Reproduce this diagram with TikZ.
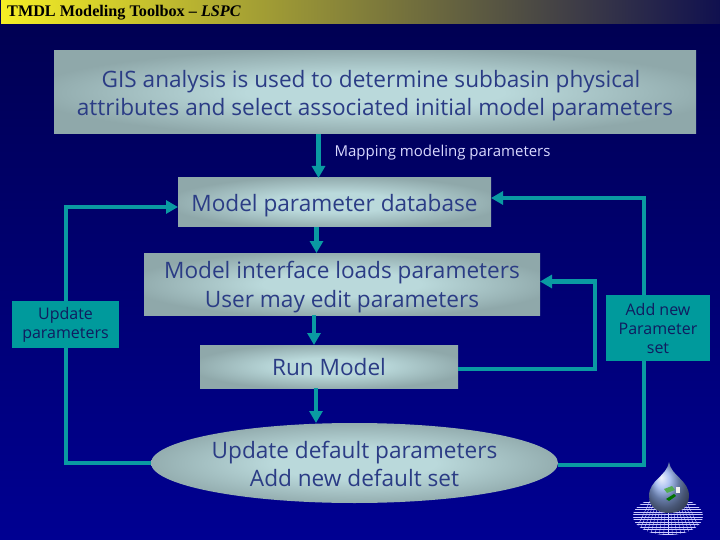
\documentclass[tikz,border=0pt]{standalone}
\usepackage{fontspec}
\setmainfont{Open Sans}
\newfontfamily\titlefont{Liberation Serif}
\usetikzlibrary{arrows.meta, shapes.geometric}

\definecolor{toolteal}{HTML}{0A9AA2}
\definecolor{boxteal}{HTML}{009A9C}
\definecolor{boxtext}{HTML}{2B3C85}
\definecolor{tagtext}{HTML}{101C60}
\definecolor{glowin}{HTML}{BAD9DB}
\definecolor{glowout}{HTML}{8FA8AA}
\definecolor{barleft}{HTML}{F5EE25}
\definecolor{barmid}{HTML}{BDB030}
\definecolor{barright}{HTML}{10104F}
\definecolor{nighttop}{HTML}{000050}
\definecolor{nightlow}{HTML}{000092}
\pgfdeclareradialshading{boxglow}{\pgfpoint{0bp}{0bp}}{%
  color(0bp)=(glowin); color(10bp)=(glowin); color(27bp)=(glowout); color(50bp)=(glowout)}
\newcommand{\toproom}[1]{\rule{0pt}{#1pt}}

\tikzset{
  flowbox/.style={rectangle, inner sep=0pt, shading=boxglow, text=boxtext, align=center,
    font=\fontsize{22.6}{28.5}\selectfont},
  tagbox/.style={rectangle, inner sep=0pt, fill=boxteal, text=tagtext, align=center,
    font=\fontsize{16}{19}\selectfont},
  flowline/.style={draw=toolteal, line width=4.8pt},
  flowarrow/.style={flowline, -{Triangle[width=13pt,length=12pt]}}
}

\begin{document}
\begin{tikzpicture}[x=1pt, y=-1pt]
\useasboundingbox (0,0) rectangle (720,540);
\shade[top color=nighttop, bottom color=nightlow] (0,0) rectangle (720,540);
\shade[left color=barleft, middle color=barmid, right color=barright] (1,1) rectangle (720,24);

\node[anchor=west, inner sep=0pt, text=black, font=\titlefont\bfseries\fontsize{16.2}{18}\selectfont] (title) at (7,12.5) {TMDL Modeling Toolbox – \textit{LSPC}};

\node[flowbox, minimum width=642pt, minimum height=83pt] (gis) at (375,92.5)
  {\toproom{23}GIS analysis is used to determine subbasin physical\hspace*{8pt}\\attributes and select associated initial model parameters};
\node[text=white!85!blue, font=\fontsize{15}{17}\selectfont] (mapping) at (442.5,152.5) {Mapping modeling parameters};
\node[flowbox, minimum width=313pt, minimum height=49pt] (database) at (334.5,202.5) {\toproom{23}Model parameter database};
\node[flowbox, minimum width=396pt, minimum height=62pt] (interface) at (342,284) {\toproom{23}Model interface loads parameters\\User may edit parameters};
\node[flowbox, minimum width=258pt, minimum height=43pt] (run) at (329,366.5) {\toproom{19}Run Model};
\node[flowbox, ellipse, minimum width=407pt, minimum height=80pt] (defaults) at (354.5,463) {\toproom{19}Update default parameters\\Add new default set};
\node[tagbox, minimum width=107pt, minimum height=47pt] (update) at (65.5,324.5) {Update\\parameters};
\node[tagbox, minimum width=104pt, minimum height=66pt] (addnew) at (658,328) {Add new\\Parameter\\set};

\coordinate (gisout) at (318.5,134);
\coordinate (dbin) at (318.5,178);
\coordinate (dbout) at (316.5,227);
\coordinate (ifin) at (316.5,253);
\coordinate (ifout) at (314,315);
\coordinate (runin) at (314,345);
\coordinate (runout) at (316,388);
\coordinate (defin) at (316,423);
\draw[flowarrow] (gisout) -- (dbin);
\draw[flowarrow] (dbout) -- (ifin);
\draw[flowarrow] (ifout) -- (runin);
\draw[flowarrow] (runout) -- (defin);

\coordinate (dbleft) at (178,207);
\coordinate (dbright) at (491,198);
\coordinate (ifright) at (540,281.5);
\coordinate (runright) at (458,369);
\coordinate (defright) at (558,465);
\coordinate (updown) at (66,348);
\coordinate (upup) at (66,301);
\coordinate (addown) at (644,361);
\coordinate (adup) at (644,295);
\draw[flowline] (defaults.west) -| (updown);
\draw[flowarrow] (upup) |- (dbleft);
\draw[flowline] (defright) -| (addown);
\draw[flowarrow] (adup) |- (dbright);
\draw[flowarrow] (runright) -| (595,281.5) -- (ifright);

% droplet on its grid
\begin{scope}
\clip (668,516) ellipse (35 and 19);
\foreach \gridy in {497,499.5,...,535}
  \draw[white!80!blue, line width=0.4pt] (630,\gridy) -- (706,\gridy);
\foreach \gridx in {-16,-14,...,16}
  \draw[white!80!blue, line width=0.4pt] (668+\gridx,497) -- (668+2.2*\gridx,536);
\end{scope}
\shade[ball color=blue!30!white!80!toolteal] (669,462) .. controls (671,476) and (689,480) .. (689,496)
  .. controls (689,508) and (679,513) .. (669,513) .. controls (659,513) and (649,508) .. (649,496)
  .. controls (649,480) and (667,476) .. (669,462) -- cycle;
\fill[green!35!gray] (664,489) -- (672,486) -- (675,490) -- (667,493) -- cycle;
\fill[green!45!black] (666,499) -- (674,494) -- (676,496) -- (669,501) -- cycle;
\fill[white!90!gray] (676,487) rectangle (680,493);
\end{tikzpicture}
\end{document}
